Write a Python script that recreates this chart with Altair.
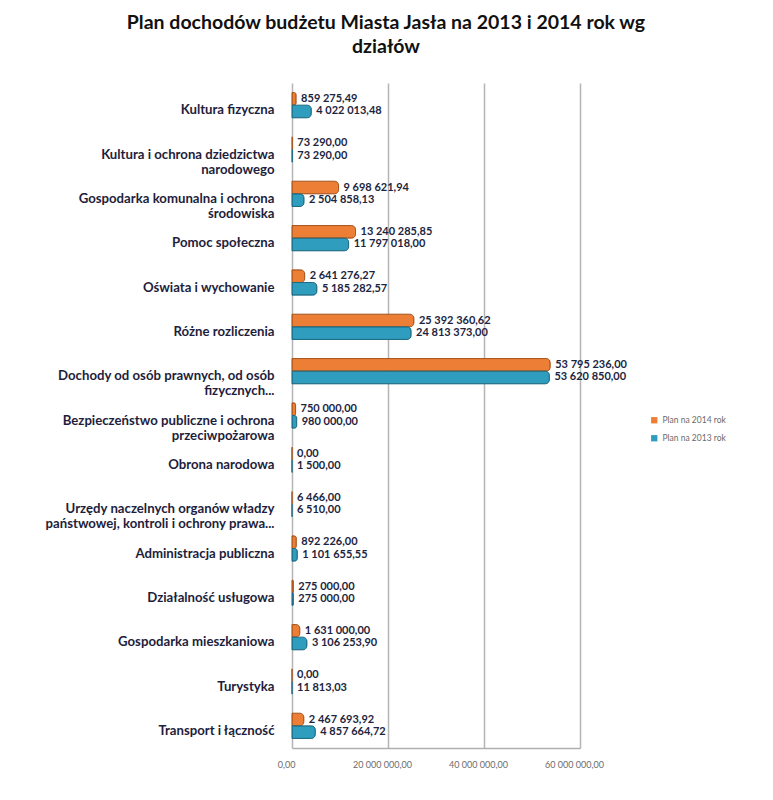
import altair as alt
import pandas as pd

categories = [
    "Kultura fizyczna",
    "Kultura i ochrona dziedzictwa|narodowego",
    "Gospodarka komunalna  i ochrona|środowiska",
    "Pomoc społeczna",
    "Oświata i wychowanie",
    "Różne rozliczenia",
    "Dochody od osób prawnych, od osób|fizycznych...",
    "Bezpieczeństwo publiczne i ochrona|przeciwpożarowa",
    "Obrona narodowa",
    "Urzędy naczelnych organów władzy|państwowej, kontroli i ochrony prawa...",
    "Administracja publiczna",
    "Działalność usługowa",
    "Gospodarka mieszkaniowa",
    "Turystyka",
    "Transport i łączność",
]
plan_2014 = [859275.49, 73290.00, 9698621.94, 13240285.85, 2641276.27,
             25392360.62, 53795236.00, 750000.00, 0.00, 6466.00,
             892226.00, 275000.00, 1631000.00, 0.00, 2467693.92]
plan_2013 = [4022013.48, 73290.00, 2504858.13, 11797018.00, 5185282.57,
             24813373.00, 53620850.00, 980000.00, 1500.00, 6510.00,
             1101655.55, 275000.00, 3106253.90, 11813.03, 4857664.72]
series = ["Plan na 2014 rok", "Plan na 2013 rok"]
x_ticks = [0, 20000000, 40000000, 60000000]


def fmt(v):
    return f"{v:,.2f}".replace(",", " ").replace(".", ",")


rows = []
for c, a, b in zip(categories, plan_2014, plan_2013):
    rows.append({"cat": c, "series": series[0], "value": a, "label": fmt(a)})
    rows.append({"cat": c, "series": series[1], "value": b, "label": fmt(b)})
df = pd.DataFrame(rows)

FONT = "Lato"

y_enc = alt.Y("cat:N", sort=categories, title=None,
              scale=alt.Scale(paddingInner=0.43, paddingOuter=0.215),
              axis=alt.Axis(labelExpr="split(datum.label, '|')", labelFontSize=13.2,
                            labelFontWeight="bold", labelColor="#1E1E3C", labelFont=FONT,
                            labelLimit=400, labelLineHeight=15, labelPadding=18,
                            labelOffset=5,
                            ticks=False, domain=False, grid=False))
yoff = alt.YOffset("series:N", scale=alt.Scale(domain=series))
x_enc = alt.X("value:Q", title=None,
              scale=alt.Scale(domain=[0, 60000000], nice=False),
              axis=alt.Axis(values=x_ticks,
                            labelExpr="replace(replace(format(datum.value, ',.2f'), /,/g, ' '), /[.]/g, ',')",
                            labelFontSize=9, labelColor="#6B6B6B", labelFont=FONT,
                            labelPadding=12, labelOffset=-6, labelFlush=False, labelOverlap=False,
                            ticks=False,
                            domain=True, domainColor="#AFAFAF", domainWidth=1.5,
                            grid=True, gridColor="#B5B5B5", gridWidth=1.5))

bars = alt.Chart(df).mark_bar(cornerRadiusEnd=4, strokeWidth=1).encode(
    y=y_enc, yOffset=yoff, x=x_enc,
    color=alt.Color("series:N", scale=alt.Scale(domain=series, range=["#EC7F35", "#2F9DBE"]),
                    title=None,
                    legend=alt.Legend(orient="none", legendX=358, legendY=333,
                                      symbolType="square", symbolSize=40, symbolStrokeWidth=0,
                                      labelFontSize=8.5, labelColor="#6B6B6B", labelFont=FONT,
                                      rowPadding=9)),
    stroke=alt.Stroke("series:N", scale=alt.Scale(domain=series, range=["#A9541C", "#1D6A82"]),
                      legend=None),
)

texts = alt.Chart(df).mark_text(align="left", baseline="middle", dx=5, fontSize=11,
                                fontWeight="bold", color="#1C2540", font=FONT).encode(
    y=alt.Y("cat:N", sort=categories), yOffset=yoff, x="value:Q", text="label:N"
)

chart = alt.layer(bars, texts).properties(
    width=288, height=665,
    title=alt.TitleParams(
        ["Plan dochodów budżetu Miasta Jasła na 2013 i 2014 rok wg", "działów"],
        fontSize=19.5, font=FONT, fontWeight="bold", color="#111111",
        anchor="middle", dx=-50, offset=26, lineHeight=24),
    padding={"left": 284, "top": 75, "right": 185, "bottom": 44},
    autosize=alt.AutoSizeParams(type="none"),
    background="white",
).configure_view(stroke=None)

chart.save("out.html", embed_options={"renderer": "svg", "actions": False})
